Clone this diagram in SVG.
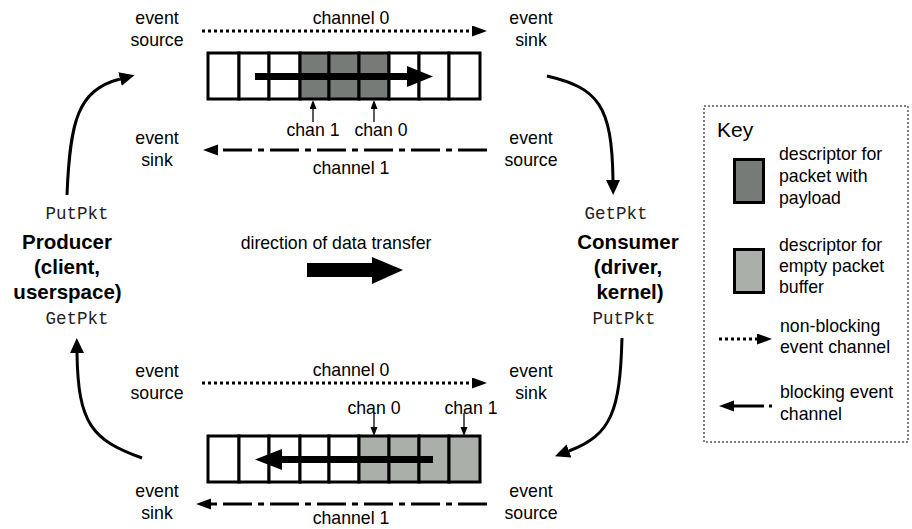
<svg xmlns="http://www.w3.org/2000/svg" width="912" height="529" viewBox="0 0 912 529">
<style>
text{font-family:"Liberation Sans",Arial,sans-serif;font-size:17.7px;fill:#000}
.c{text-anchor:middle}
.b{font-weight:bold;font-size:20.5px}
.m{font-family:"Liberation Mono","Courier New",monospace;font-size:17.5px;fill:#222}
.cell{fill:#fff;stroke:#000;stroke-width:3}
.dk{fill:#777b77}
.lt{fill:#aaafaa}
.dot{fill:none;stroke:#000;stroke-width:3;stroke-dasharray:3 3}
.dd{fill:none;stroke:#000;stroke-width:3;stroke-dasharray:29 6 6 6}
.cur{fill:none;stroke:#000;stroke-width:3}
.thin{fill:none;stroke:#000;stroke-width:1.3}
</style>
<defs>
<marker id="ah" markerUnits="userSpaceOnUse" markerWidth="16" markerHeight="14" refX="0" refY="7" orient="auto"><path d="M0,0 L15,7 L0,14 z" fill="#000"/></marker>
<marker id="ch" markerUnits="userSpaceOnUse" markerWidth="16" markerHeight="12" refX="0" refY="5.5" orient="auto"><path d="M0,0 L15,5.5 L0,11 z" fill="#000"/></marker>
<marker id="sm" markerUnits="userSpaceOnUse" markerWidth="9" markerHeight="8" refX="0" refY="3.5" orient="auto"><path d="M0,0 L9,3.5 L0,7 z" fill="#000"/></marker>
</defs>

<g id="top-buffer">
<rect class="cell" x="208" y="53" width="31" height="46"/>
<rect class="cell" x="239" y="53" width="30" height="46"/>
<rect class="cell" x="269" y="53" width="31" height="46"/>
<rect class="cell dk" x="300" y="53" width="29" height="46"/>
<rect class="cell dk" x="329" y="53" width="30" height="46"/>
<rect class="cell dk" x="359" y="53" width="30" height="46"/>
<rect class="cell" x="389" y="53" width="30" height="46"/>
<rect class="cell" x="419" y="53" width="30" height="46"/>
<rect class="cell" x="449" y="53" width="31" height="46"/>
<rect x="255" y="73" width="153" height="7" fill="#000"/>
<polygon points="407,66 433,76.5 407,87" fill="#000"/>
</g>

<g id="bottom-buffer">
<rect class="cell" x="208" y="436" width="31" height="46"/>
<rect class="cell" x="239" y="436" width="30" height="46"/>
<rect class="cell" x="269" y="436" width="31" height="46"/>
<rect class="cell" x="300" y="436" width="29" height="46"/>
<rect class="cell" x="329" y="436" width="30" height="46"/>
<rect class="cell lt" x="359" y="436" width="30" height="46"/>
<rect class="cell lt" x="389" y="436" width="30" height="46"/>
<rect class="cell lt" x="419" y="436" width="30" height="46"/>
<rect class="cell lt" x="449" y="436" width="31" height="46"/>
<rect x="281" y="456" width="152" height="7" fill="#000"/>
<polygon points="282,449 255,459.5 282,470" fill="#000"/>
</g>

<g id="direction">
<text class="c" x="336" y="249">direction of data transfer</text>
<rect x="307" y="263" width="66" height="14" fill="#000"/>
<polygon points="372,257 403,270 372,284" fill="#000"/>
</g>

<g id="producer">
<text class="c m" x="77" y="219">PutPkt</text>
<text class="c b" x="67" y="249">Producer</text>
<text class="c b" x="67" y="274">(client,</text>
<text class="c b" x="67.5" y="299">userspace)</text>
<text class="c m" x="77" y="324">GetPkt</text>
</g>

<g id="consumer">
<text class="c m" x="616" y="219">GetPkt</text>
<text class="c b" x="628" y="249">Consumer</text>
<text class="c b" x="628" y="274">(driver,</text>
<text class="c b" x="630" y="299">kernel)</text>
<text class="c m" x="624" y="324">PutPkt</text>
</g>

<g id="labels">
<text class="c" x="157" y="24">event</text>
<text class="c" x="157" y="46">source</text>
<text class="c" x="531" y="24">event</text>
<text class="c" x="531" y="46">sink</text>
<text class="c" x="351" y="24">channel 0</text>
<text class="c" x="313" y="136">chan 1</text>
<text class="c" x="381" y="136">chan 0</text>
<text class="c" x="157" y="144">event</text>
<text class="c" x="157" y="166">sink</text>
<text class="c" x="531" y="144">event</text>
<text class="c" x="531" y="166">source</text>
<text class="c" x="351" y="174">channel 1</text>

<text class="c" x="157" y="377">event</text>
<text class="c" x="157" y="399">source</text>
<text class="c" x="531" y="377">event</text>
<text class="c" x="531" y="399">sink</text>
<text class="c" x="351" y="376">channel 0</text>
<text class="c" x="374" y="414">chan 0</text>
<text class="c" x="471" y="414">chan 1</text>
<text class="c" x="157" y="497">event</text>
<text class="c" x="157" y="519">sink</text>
<text class="c" x="531" y="497">event</text>
<text class="c" x="531" y="519">source</text>
<text class="c" x="351" y="524">channel 1</text>
</g>

<g id="connectors">
<path class="dot" d="M202,31 L472,31" marker-end="url(#ch)"/>
<path class="dd" d="M487,150 L218,150" marker-end="url(#ch)"/>
<path class="dot" d="M202,383 L472,383" marker-end="url(#ch)"/>
<path class="dd" d="M487,504 L211,504" marker-end="url(#ch)"/>
<path class="thin" d="M313,122 L313,109" marker-end="url(#sm)"/>
<path class="thin" d="M374,122 L374,109" marker-end="url(#sm)"/>
<path class="thin" d="M374,413 L374,427" marker-end="url(#sm)"/>
<path class="thin" d="M464,413 L464,427" marker-end="url(#sm)"/>
<path class="cur" d="M67,195 C70,120 78,90 120,79" marker-end="url(#ah)"/>
<path class="cur" d="M547,76 C598,88 612,105 613,180" marker-end="url(#ah)"/>
<path class="cur" d="M142,458 C92,440 78,424 77,353" marker-end="url(#ah)"/>
<path class="cur" d="M622,338 C620,410 612,435 569,451" marker-end="url(#ah)"/>
</g>

<g id="key">
<rect x="704" y="106" width="204" height="336" fill="none" stroke="#000" stroke-width="1" stroke-dasharray="2 2"/>
<text x="717" y="137" style="font-size:21px">Key</text>
<rect x="734.5" y="159.5" width="29" height="43" class="dk" stroke="#000" stroke-width="3"/>
<text x="779" y="160">descriptor for</text>
<text x="779" y="182">packet with</text>
<text x="779" y="204">payload</text>
<rect x="734.5" y="249.5" width="29" height="43" class="lt" stroke="#000" stroke-width="3"/>
<text x="779" y="251">descriptor for</text>
<text x="779" y="272">empty packet</text>
<text x="779" y="293">buffer</text>
<path class="dot" d="M719,339 L757,339" marker-end="url(#ch)"/>
<text x="780" y="332">non-blocking</text>
<text x="780" y="353">event channel</text>
<path class="cur" d="M764,406 L734,406" marker-end="url(#ch)"/>
<path class="cur" d="M769,406 L772,406"/>
<text x="780" y="398">blocking event</text>
<text x="780" y="420">channel</text>
</g>
</svg>
